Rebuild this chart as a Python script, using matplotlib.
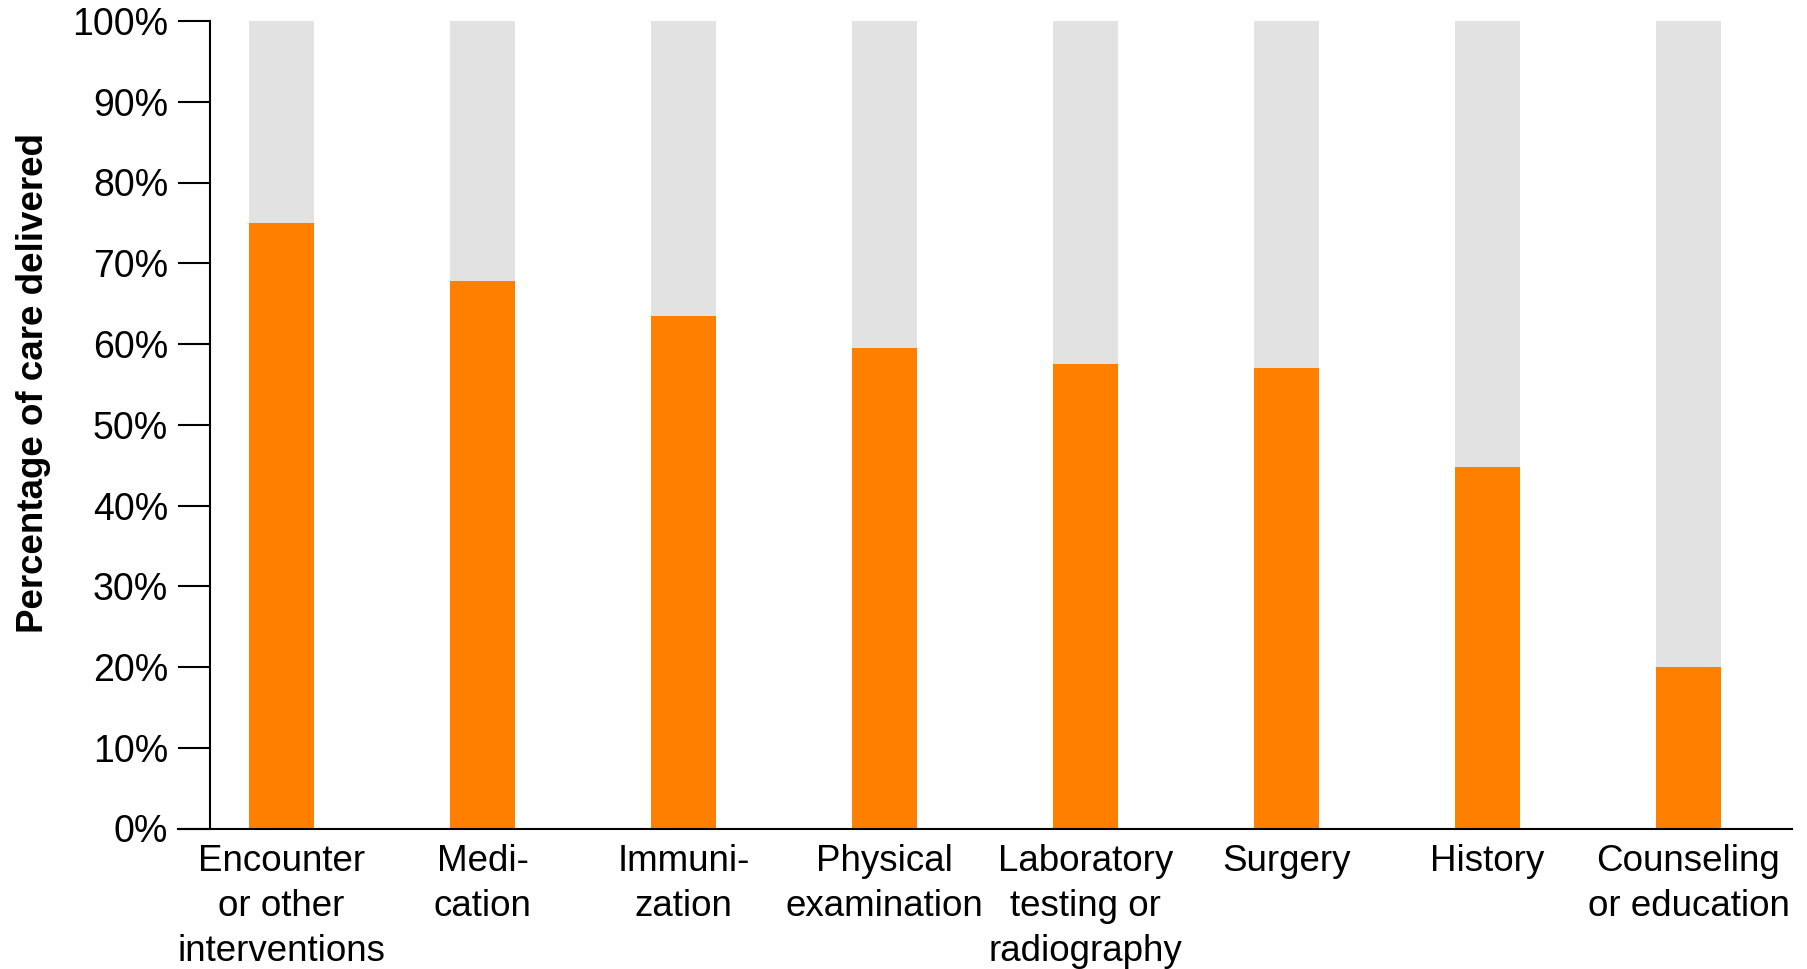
import numpy as np
import matplotlib
matplotlib.use('Agg')
import matplotlib.pyplot as plt

plt.rcParams['font.family'] = ['Liberation Sans', 'DejaVu Sans']

# 카테고리와 값
categories = ['Encounter\nor other\ninterventions', 'Medi-\ncation', 'Immuni-\nzation',
              'Physical\nexamination', 'Laboratory\ntesting or\nradiography', 'Surgery',
              'History', 'Counseling\nor education']
delivered = [75.0, 67.8, 63.5, 59.5, 57.5, 57.0, 44.8, 20.0]
total = [100] * len(categories)

fig = plt.figure(figsize=(18.07, 9.69), dpi=100)
ax = fig.add_axes([178 / 1807, 1 - 828.5 / 969, 1614 / 1807, 807.5 / 969])

x = np.arange(len(categories))
ax.bar(x, total, width=0.323, color='#E2E2E2', zorder=1)
ax.bar(x, delivered, width=0.323, color='#FF8000', zorder=2)

# 축 범위
ax.set_xlim(-0.515, 7.515)
ax.set_ylim(0, 100)

# 축 스타일
ax.spines['top'].set_visible(False)
ax.spines['right'].set_visible(False)
ax.spines['left'].set_position(('data', -0.356))
ax.spines['left'].set_linewidth(1.5)
ax.spines['bottom'].set_linewidth(1.5)

ax.set_yticks(np.arange(0, 101, 10))
ax.set_yticklabels([f'{v}%' for v in range(0, 101, 10)], fontsize=27)
ax.tick_params(axis='y', length=23, width=1.5, pad=7)

ax.set_xticks(x)
ax.set_xticklabels(categories, fontsize=26.5, linespacing=1.36)
ax.tick_params(axis='x', length=0, pad=11.5)

fig.text(34 / 1807, 1 - 383 / 969, 'Percentage of care delivered', rotation=90,
         fontsize=26.5, fontweight='bold', ha='center', va='center')

fig.savefig('out.png', dpi=100)
